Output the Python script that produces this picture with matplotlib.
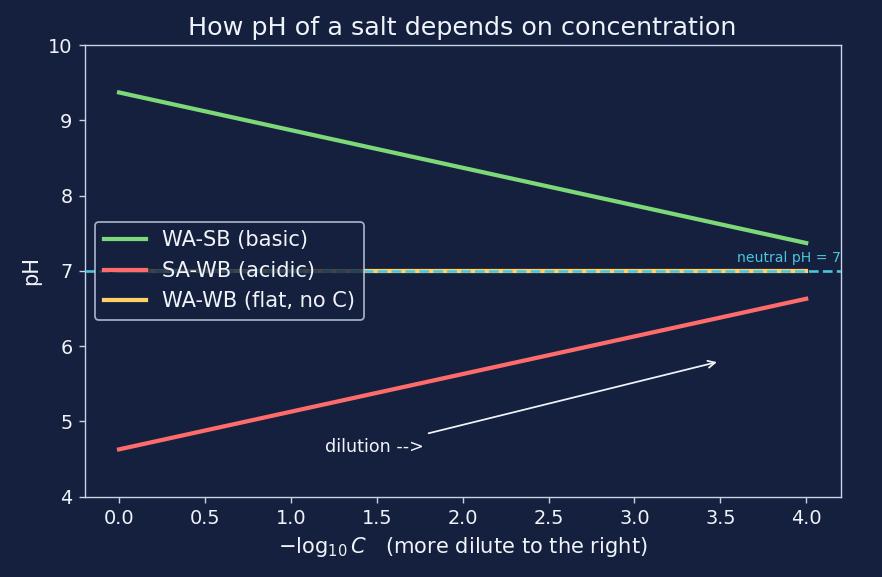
import matplotlib
matplotlib.use("Agg")
import matplotlib.pyplot as plt

# ---- data ----
x_vals = [0.0, 1.0, 2.0, 3.0, 4.0]
ph_wa_sb = [9.37, 8.87, 8.37, 7.87, 7.37]
ph_sa_wb = [4.63, 5.13, 5.63, 6.13, 6.63]
ph_wa_wb = [7.0, 7.0, 7.0, 7.0, 7.0]
series_labels = ["WA-SB (basic)", "SA-WB (acidic)", "WA-WB (flat, no C)"]
neutral_ph = 7.0

BG = '#14203d'
FG = '#f0f4fa'
SPINE = '#c8d3e6'
COLORS = ['#7dd87a', '#ff6b6b', '#ffd166']
CYAN = '#4cc5d8'

fig, ax = plt.subplots(figsize=(7.0, 577 / 126), dpi=126)
fig.patch.set_facecolor(BG)
ax.set_facecolor(BG)

for ys, lab, col in zip([ph_wa_sb, ph_sa_wb, ph_wa_wb], series_labels, COLORS):
    ax.plot(x_vals, ys, color=col, linewidth=2.4, label=lab, zorder=2)

# neutral line drawn over the flat WA-WB line
ax.axhline(neutral_ph, color=CYAN, linestyle='--', linewidth=1.5, zorder=3)

ax.text(3.6, 7.12, 'neutral pH = 7', color=CYAN, fontsize=8)
ax.annotate('dilution -->', xy=(3.5, 5.8), xytext=(1.2, 4.6),
            color=FG, fontsize=10,
            arrowprops=dict(arrowstyle='->', color=FG, lw=1.0))

ax.set_xlim(-0.2, 4.2)
ax.set_ylim(4, 10)
ax.set_xticks([0, 0.5, 1.0, 1.5, 2.0, 2.5, 3.0, 3.5, 4.0])
ax.set_xlabel(r'$-\log_{10} C$   (more dilute to the right)', color=FG, fontsize=12)
ax.set_ylabel('pH', color=FG, fontsize=12)
ax.set_title('How pH of a salt depends on concentration', color=FG, fontsize=14.5)
ax.tick_params(colors=SPINE, labelcolor=FG, labelsize=11)
for s in ax.spines.values():
    s.set_color(SPINE)

ax.legend(loc='center left', fontsize=12,
          facecolor=BG, edgecolor=SPINE, framealpha=0.8, labelcolor=FG)

plt.subplots_adjust(left=0.096, right=0.953, top=0.922, bottom=0.139)
plt.savefig('out.png', dpi=126, facecolor=BG)
